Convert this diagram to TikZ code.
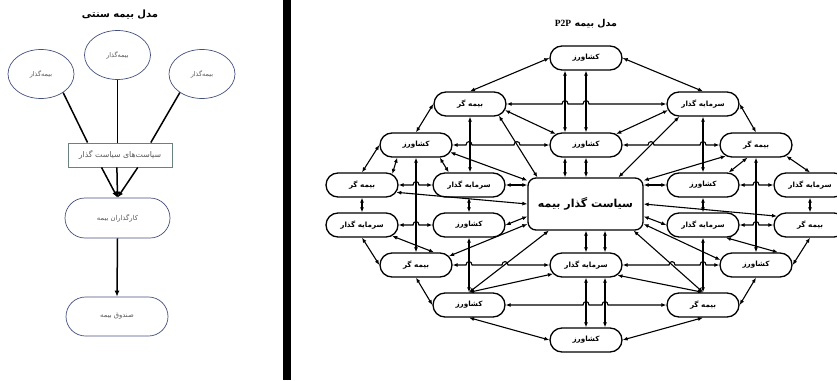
\documentclass[tikz,border=0pt]{standalone}
\usepackage{fontspec}
\usetikzlibrary{arrows.meta,shapes.misc,shapes.geometric,calc}
\TeXXeTstate=1
\newfontfamily\fa[Script=Arabic]{DejaVu Sans}
\newfontfamily\tnr{Liberation Serif}
\newcommand\pe[1]{{\fa\beginR #1\endR}}
\newcommand\bmp[1]{-- ($(#1)+(-3,0)$) .. controls +(0,-4.5) and +(0,-4.5) .. ($(#1)+(3,0)$)}
\definecolor{elc}{RGB}{70,80,125}
\definecolor{rcc}{RGB}{105,130,125}
\begin{document}
\begin{tikzpicture}[x=1pt,y=-1pt,
  pn/.style={rounded rectangle, draw, line width=1.3pt, minimum width=72pt, minimum height=24pt, inner sep=0pt, fill=white, font=\fontsize{7.2}{8}\selectfont\bfseries},
  bx/.style={rectangle, rounded corners=8pt, draw, line width=1.3pt, minimum width=115pt, minimum height=52pt, inner sep=0pt, fill=white, font=\fontsize{11}{12}\selectfont\bfseries},
  con/.style={line width=1.1pt, <->, >={Latex[length=5pt,width=4pt]}},
  ell/.style={ellipse, draw=elc, line width=0.7pt, minimum width=66pt, minimum height=49pt, inner sep=0pt, text=black!65, font=\fontsize{6.5}{7}\selectfont},
  rct/.style={rectangle, draw=rcc, line width=0.9pt, minimum width=104pt, minimum height=24pt, inner sep=0pt, text=black!65, font=\fontsize{7.8}{8}\selectfont},
  stad/.style={rounded rectangle, draw=elc, line width=0.7pt, minimum width=105pt, minimum height=40pt, inner sep=0pt, text=black!65, font=\fontsize{6.8}{7}\selectfont},
  ln/.style={line width=1.5pt},
  lna/.style={line width=1.5pt, -{Latex[length=6pt,width=5pt]}}
]
\fill[white] (0,0) rectangle (837,380);
\useasboundingbox (0,0) rectangle (837,380);

% ---------- left panel ----------
\node[font=\fontsize{10}{11}\selectfont\bfseries] (t1) at (120,15) {\pe{مدل بیمه سنتی}};
\node[ell] (E1) at (41,74) {\pe{بیمه‌گذار}};
\node[ell] (E2) at (117.5,55) {\pe{بیمه‌گذار}};
\node[ell] (E3) at (202,74) {\pe{بیمه‌گذار}};
\node[rct] (R) at (120,155) {\pe{سیاست‌های سیاست گذار}};
\node[stad] (K) at (117.5,218) {\pe{کارگذاران بیمه}};
\node[stad, minimum width=102pt, minimum height=39pt] (S) at (117,316.5) {\pe{صندوق بیمه}};
\draw[ln] (E1.-40) -- (R.159);
\draw[ln] (E2.south) -- (E2.south |- R.north);
\draw[ln] (E3.220) -- (R.22);
\draw[lna] (R.214) -- (K.north);
\draw[lna] (R.256) -- (K.north);
\draw[lna] (R.-35) -- (K.north);
\draw[lna] (K.south) -- (S.north);

% separator bar
\fill[black] (283,0) rectangle (291,380);

% ---------- right panel ----------
\node[font=\fontsize{9.5}{10}\selectfont\bfseries] (t2) at (586,24) {\fa\beginR مدل بیمه \beginL{\tnr P2P}\endL\endR};

\node[pn] (T) at (586,58) {\pe{کشاورز}};
\node[pn] (UL) at (470,104) {\pe{بیمه گر}};
\node[pn] (UR) at (703,104) {\pe{سرمایه گذار}};
\node[pn] (L1) at (416,145) {\pe{کشاورز}};
\node[pn] (C1) at (586,145) {\pe{کشاورز}};
\node[pn] (R1) at (756,145) {\pe{بیمه گر}};
\node[pn] (LL2) at (362,185) {\pe{بیمه گر}};
\node[pn] (LI2) at (469,185) {\pe{سرمایه گذار}};
\node[pn] (RI2) at (703,185) {\pe{کشاورز}};
\node[pn] (RR2) at (810,185) {\pe{سرمایه گذار}};
\node[pn] (LL3) at (362,225) {\pe{سرمایه گذار}};
\node[pn] (LI3) at (469,225) {\pe{کشاورز}};
\node[pn] (RI3) at (703,225) {\pe{سرمایه گذار}};
\node[pn] (RR3) at (810,225) {\pe{بیمه گر}};
\node[pn] (L4) at (416,265) {\pe{بیمه گر}};
\node[pn] (C4) at (586,265) {\pe{سرمایه گذار}};
\node[pn] (R4) at (756,265) {\pe{کشاورز}};
\node[pn] (BL) at (469,305) {\pe{کشاورز}};
\node[pn] (BR) at (703,305) {\pe{بیمه گر}};
\node[pn] (B) at (586,340) {\pe{کشاورز}};
\node[bx] (BOX) at (585.5,204) {\pe{سیاست گذار بیمه}};

\coordinate (v1) at ([xshift=-21pt]T.south);
\coordinate (v3) at ([xshift=19pt]C4.north);
\coordinate (j1) at (517,0);
\coordinate (j2) at (651,0);
\coordinate (j3) at (505,0);
\coordinate (j4) at (672,0);

% outer ring
\draw[con] (T.west) -- (UL.north);
\draw[con] (T.east) -- (UR.north);
\draw[con] (UL.west) -- (L1.north);
\draw[con] (UR.east) -- (R1.north);
\draw[con] (L1.west) -- (LL2.north);
\draw[con] (L1.214) -- (LL2.20);
\draw[con] (R1.-20) -- (RR2.north);
\draw[con] (LL2.south) -- (LL3.north);
\draw[con] (RR2.south) -- (RR3.north);
\draw[con] (LL3.south) -- (L4.west);
\draw[con] (LL3.-20) -- (L4.35);
\draw[con] (RR3.south) -- (R4.east);
\draw[con] (L4.south) -- (BL.west);
\draw[con] (R4.south) -- (BR.east);
\draw[con] (BL.south) -- (B.west);
\draw[con] (BR.south) -- (B.east);

% horizontals
\draw[con] (UL.east) \bmp{UL.east -| v1} \bmp{UL.east -| T.south} -- (UR.west);
\draw[con] (L1.east) \bmp{L1.east -| LI2.north} \bmp{L1.east -| j1} -- (C1.west);
\draw[con] (C1.east) \bmp{C1.east -| j2} \bmp{C1.east -| RI2.north} -- (R1.west);
\draw[con] (LL2.east) \bmp{LL2.east -| L1.south} -- (LI2.west);
\draw[con] (LI2.east) -- (LI2.east -| BOX.west);
\draw[con] (RI2.west -| BOX.east) -- (RI2.west);
\draw[con] (RI2.east) \bmp{RI2.east -| R1.south} -- (RR2.west);
\draw[con] (LL3.east) \bmp{LL3.east -| L1.south} -- (LI3.west);
\draw[con] (LI3.east) -- (BOX.192);
\draw[con] (BOX.-12) -- (RI3.west);
\draw[con] (RI3.east) \bmp{RI3.east -| R1.south} -- (RR3.west);
\draw[con] (L4.east) \bmp{L4.east -| LI3.south} \bmp{L4.east -| j3} -- (C4.west);
\draw[con] (C4.east) \bmp{C4.east -| j4} \bmp{C4.east -| RI3.south} -- (R4.west);
\draw[con] (BL.east) \bmp{BL.east -| C4.south} \bmp{BL.east -| v3} -- (BR.west);

% verticals
\draw[con] (v1) -- (v1 |- C1.north);
\draw[con] (T.south) -- (C1.north);
\draw[con] ([xshift=-21pt]C1.south) -- ([xshift=-21pt]C1.south |- BOX.north);
\draw[con] (C1.south) -- (C1.south |- BOX.north);
\draw[con] (C4.north |- BOX.south) -- (C4.north);
\draw[con] (v3 |- BOX.south) -- (v3);
\draw[con] (C4.south) -- (B.north);
\draw[con] ([xshift=19pt]C4.south) -- ([xshift=19pt]B.north);
\draw[con] (L1.south) -- (L4.north);
\draw[con] (UL.south) -- (UL.south |- LI2.north);
\draw[con] (LI2.south) -- (LI3.north);
\draw[con] (LI3.south) -- (BL.north);
\draw[con] (UR.south) -- (RI2.north);
\draw[con] (RI2.south) -- (RI3.north);
\draw[con] (RI3.south) -- (BR.north);
\draw[con] (R1.south) -- (R4.north);

% diagonals
\draw[con] (UL.-10) -- (C1.160);
\draw[con] (UR.190) -- (C1.20);
\draw[con] (UL.-22) -- (BOX.151);
\draw[con] (UR.208) -- (BOX.39);
\draw[con] (L1.-12) -- (BOX.158);
\draw[con] (R1.200) -- (BOX.22);
\draw[con] (L1.-28) -- (LI2.148);
\draw[con] (R1.236) -- (RI2.26);
\draw[con] (LL2.-12) -- (BOX.west);
\draw[con] (BOX.east) -- (RR3.165);
\draw[con] (L4.15) -- (BOX.199);
\draw[con] (BOX.-19) -- (R4.172);
\draw[con] (BL.north) -- (BOX.216);
\draw[con] (BOX.-29) -- (BR.north);
\draw[con] (BL.north) -- (C4.195);
\draw[con] (BR.north) -- (C4.-18);
\draw[con] (RI3.-29) -- (R4.30);
\end{tikzpicture}
\end{document}
